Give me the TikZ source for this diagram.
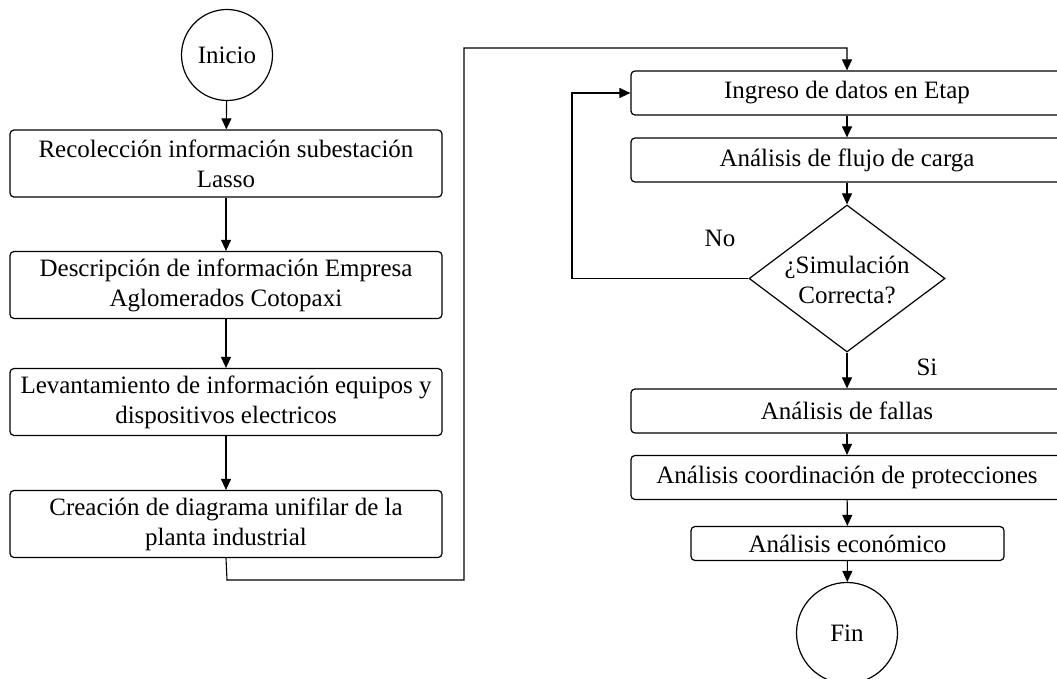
\documentclass[tikz,border=0pt]{standalone}
\usepackage{fontspec}
\setmainfont{Liberation Serif}
\usetikzlibrary{shapes.geometric,arrows.meta}
\begin{document}
\begin{tikzpicture}[x=1pt,y=-1pt,
  every node/.style={font=\fontsize{25}{30}\selectfont},
  box/.style={draw,line width=1.2pt,rounded corners=4pt,align=center,inner sep=0pt},
  term/.style={draw,circle,line width=1.2pt,inner sep=0pt},
  conn/.style={line width=1.1pt,-{Triangle[length=11pt,width=10pt]}},
  line/.style={line width=1.1pt},
  lbl/.style={inner sep=0pt}]
\useasboundingbox (0,0) rectangle (1057,679);
% left column
\node[term,minimum size=91pt] (ini) at (227,55) {Inicio};
\node[box,minimum width=432pt,minimum height=67pt] (b1) at (226,163.5) {Recolección información subestación\\Lasso};
\node[box,minimum width=432pt,minimum height=67pt] (b2) at (226,285) {Descripción de información Empresa\\Aglomerados Cotopaxi};
\node[box,minimum width=432pt,minimum height=67pt] (b3) at (226,402) {Levantamiento de información equipos y\\dispositivos electricos};
\node[box,minimum width=432pt,minimum height=67pt] (b4) at (226,524) {Creación de diagrama unifilar de la\\planta industrial};
% right column
\node[box,minimum width=432pt,minimum height=44pt] (r1) at (847,93) {Ingreso de datos en Etap};
\node[box,minimum width=432pt,minimum height=44pt] (r2) at (847,160) {Análisis de flujo de carga};
\node[draw,diamond,line width=1.2pt,minimum width=196pt,minimum height=147pt,inner sep=0pt] (dec) at (847,278.5) {};
\node[lbl,align=center] (dectxt) at (847,280) {¿Simulación\\Correcta?};
\node[box,minimum width=432pt,minimum height=44pt] (r3) at (847,411) {Análisis de fallas};
\node[box,minimum width=432pt,minimum height=44pt] (r4) at (847,477.5) {Análisis coordinación de protecciones};
\node[box,minimum width=313pt,minimum height=34pt] (r5) at (847.5,543.5) {Análisis económico};
\node[term,minimum size=101pt] (fin) at (847,633) {Fin};
\node[lbl] (no) at (720,238) {No};
\node[lbl] (si) at (927,367) {Si};
% connectors
\coordinate (c1) at (227,580);
\coordinate (c2) at (464,580);
\coordinate (c3) at (464,48);
\coordinate (c4) at (847,48);
\coordinate (f1) at (572,278.5);
\coordinate (f2) at (572,93);
\draw[conn] (ini) -- (b1);
\draw[conn] (b1) -- (b2);
\draw[conn] (b2) -- (b3);
\draw[conn] (b3) -- (b4);
\draw[conn] (b4.south) -- (c1) -- (c2) -- (c3) -- (c4) -- (r1.north);
\draw[conn] (r1) -- (r2);
\draw[conn] (r2) -- (dec);
\draw[conn] (dec.west) -- (f1) -- (f2) -- (r1.west);
\draw[conn] (dec) -- (r3);
\draw[conn] (r3) -- (r4);
\draw[conn] (r4) -- (r5);
\draw[conn] (r5) -- (fin);
\end{tikzpicture}
\end{document}
